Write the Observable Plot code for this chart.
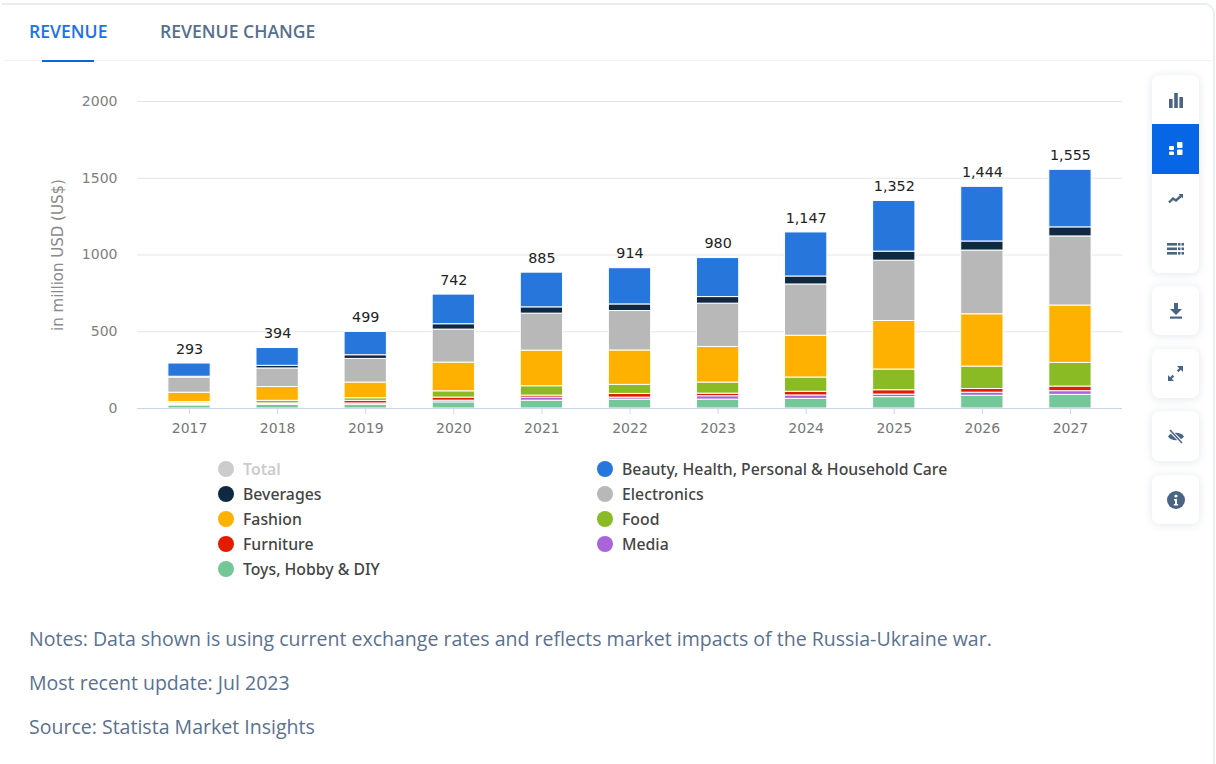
<!DOCTYPE html>
<html>
<head>
<meta charset="utf-8">
<script src="https://cdn.jsdelivr.net/npm/d3@7"></script>
<script src="https://cdn.jsdelivr.net/npm/@observablehq/plot@0.6"></script>
<style>
html,body{margin:0;padding:0;background:#fff;width:1216px;height:764px;overflow:hidden;font-family:"Open Sans",sans-serif}
#card{position:absolute;left:2px;top:3px;width:1211px;height:761px;background:#fff;border-top:2px solid #e9edf2;border-right:2px solid #e9edf2;border-radius:0 10px 0 0}
#stage{position:absolute;left:0;top:0;width:1216px;height:764px}
.tab{position:absolute;top:19px;font-size:17.6px;font-weight:600;line-height:24px;color:#566f8f;white-space:nowrap}
.tab.on{color:#1a73e8}
#tabline{position:absolute;left:4px;top:60px;width:1210px;height:1px;background:#f0f2f5}
#tabmark{position:absolute;left:42px;top:60px;width:52px;height:2px;background:#0666e5}
#plot{position:absolute;left:0;top:0}
.lg{position:absolute;font-family:"Noto Sans",sans-serif;font-weight:500;font-size:15.8px;line-height:18px;color:#444;white-space:nowrap;padding-left:25px}
.lg i{position:absolute;left:0;top:1px;width:16px;height:16px;border-radius:50%}
.note{position:absolute;left:29px;font-size:19.55px;line-height:26px;color:#5a7190;white-space:nowrap}
.tb{position:absolute;left:1152px;width:47px;background:#fff;border-radius:7px;box-shadow:0 1px 9px rgba(70,90,120,.15)}
.btn{position:absolute;left:0;width:47px;display:flex;align-items:center;justify-content:center}
.btn.on{background:#0666e5}
</style>
</head>
<body>
<div id="card"></div>
<div id="stage">
  <div class="tab on" style="left:29px">REVENUE</div>
  <div class="tab" style="left:160px">REVENUE CHANGE</div>
  <div id="tabline"></div><div id="tabmark"></div>
  <div id="plot"></div>
  <div id="legend"></div>
  <div class="note" style="top:626px">Notes: Data shown is using current exchange rates and reflects market impacts of the Russia-Ukraine war.</div>
  <div class="note" style="top:670px">Most recent update: Jul 2023</div>
  <div class="note" style="top:714px">Source: Statista Market Insights</div>

  <div class="tb" style="top:75px;height:198px">
    <div class="btn" style="top:0;height:49px"><svg width="16" height="16" fill="#4a6484"><rect x="1" y="7" width="3.6" height="9"/><rect x="6.2" y="1" width="3.6" height="15"/><rect x="11.4" y="5" width="3.6" height="11"/></svg></div>
    <div class="btn on" style="top:49px;height:50px"><svg width="16" height="14" fill="#fff"><rect x="1" y="4" width="5" height="4" rx="1"/><rect x="1" y="9.5" width="5" height="3.5" rx="1"/><rect x="9" y="0" width="5.5" height="6" rx="1"/><rect x="9" y="7.5" width="5.5" height="5.5" rx="1"/></svg></div>
    <div class="btn" style="top:99px;height:50px"><svg width="16" height="12"><path d="M1 9.5 L5 5.5 L8 7.5 L13.5 2.5" fill="none" stroke="#4a6484" stroke-width="2.4"/><path d="M10.5 1h4.5v4.5z" fill="#4a6484"/></svg></div>
    <div class="btn" style="top:149px;height:49px"><svg width="17" height="14" fill="#4a6484"><rect x="0" y="1" width="10" height="2.6"/><rect x="0" y="5.5" width="10" height="2.6"/><rect x="0" y="10" width="10" height="2.6"/><rect x="11" y="1" width="2.5" height="2.6"/><rect x="14.5" y="1" width="2.5" height="2.6"/><rect x="11" y="5.5" width="2.5" height="2.6"/><rect x="14.5" y="5.5" width="2.5" height="2.6"/><rect x="11" y="10" width="2.5" height="2.6"/><rect x="14.5" y="10" width="2.5" height="2.6"/></svg></div>
  </div>
  <div class="tb" style="top:286px;height:49px"><div class="btn" style="top:0;height:49px"><svg width="14" height="16" fill="#4a6484"><path d="M5 0h4v6h4l-6 6-6-6h4z"/><rect x="1" y="13.5" width="12" height="2.2"/></svg></div></div>
  <div class="tb" style="top:349px;height:49px"><div class="btn" style="top:0;height:49px"><svg width="15" height="15" fill="#4a6484"><path d="M9 0h6v6l-2.2-2.2-2.4 2.4-1.6-1.6 2.4-2.4z"/><path d="M6 15H0V9l2.2 2.2 2.4-2.4 1.6 1.6-2.4 2.4z"/></svg></div></div>
  <div class="tb" style="top:411px;height:50px"><div class="btn" style="top:0;height:50px"><svg width="18" height="15"><path d="M1 7.5C4 2.5 14 2.5 17 7.5 14 12.5 4 12.5 1 7.5z" fill="#4a6484"/><path d="M3 1.5 15 13.5" stroke="#fff" stroke-width="3.4"/><path d="M3 1 15 14" stroke="#4a6484" stroke-width="1.6"/></svg></div></div>
  <div class="tb" style="top:475px;height:49px"><div class="btn" style="top:0;height:49px"><svg width="18" height="18"><circle cx="9" cy="9" r="9" fill="#4a6484"/><circle cx="9" cy="5" r="1.6" fill="#fff"/><path d="M7 8h3v5h1.2v1.4H6.8V13H8V9.4H7z" fill="#fff"/></svg></div></div>
</div>
<script>
const years = ["2017","2018","2019","2020","2021","2022","2023","2024","2025","2026","2027"];
const totals = [293,394,499,742,885,914,980,1147,1352,1444,1555];
const toys = [20,24,24,40,51,58,58,63,74,83,89];
const media = [6,3,9,11,20,13,22,22,17,20,24];
const furniture = [7,6,17,20,13,24,17,24,28,24,30];
const food = [8,17,17,41,61,59,72,93,135,146,154];
const fashion = [62,90,102,187,232,224,232,272,316,341,374];
const electronics = [98,121,154,215,241,257,282,334,393,415,450];
const beverages = [6,17,24,35,41,43,43,52,59,59,59];
const beauty = [86,116,152,193,226,236,254,287,330,356,375];

const seriesNames = ["Toys, Hobby & DIY","Media","Furniture","Food","Fashion","Electronics","Beverages","Beauty, Health, Personal & Household Care"];
const seriesValues = [toys,media,furniture,food,fashion,electronics,beverages,beauty];
const seriesColors = ["#74c797","#a864d8","#e31b00","#8abb24","#ffb100","#b8b8b8","#0f2942","#2776dc"];

const legendRows = [
  ["Total","#cccccc",226,469,"#cccccc"],
  ["Beauty, Health, Personal & Household Care","#2776dc",605,469],
  ["Beverages","#0f2942",226,494],
  ["Electronics","#b8b8b8",605,494],
  ["Fashion","#ffb100",226,519],
  ["Food","#8abb24",605,519],
  ["Furniture","#e31b00",226,544],
  ["Media","#a864d8",605,544],
  ["Toys, Hobby & DIY","#74c797",226,569]
];

const rows = seriesNames.flatMap((s,i)=>years.map((y,j)=>({year:y,series:s,value:seriesValues[i][j]})));
const totalRows = years.map((y,j)=>({year:y,total:totals[j]}));
const font = "'DejaVu Sans',sans-serif";

const chart = Plot.plot({
  width:1216,height:450,
  marginLeft:137,marginRight:94,marginTop:101,marginBottom:42,
  style:{fontFamily:font,background:"transparent",overflow:"visible"},
  x:{type:"band",domain:years,insetLeft:8,insetRight:8,paddingInner:0.52,paddingOuter:0.26,align:0.5,round:false},
  y:{domain:[0,2000]},
  color:{domain:seriesNames,range:seriesColors},
  marks:[
    Plot.ruleY([500,1000,1500,2000],{stroke:"#e6e6e6",strokeWidth:1}),
    Plot.axisY({ticks:[0,500,1000,1500,2000],tickFormat:d=>String(d),tickSize:0,tickPadding:20,fontSize:14,color:"#808080",label:null}),
    Plot.axisY({ticks:[],label:"in million USD (US$)",labelAnchor:"center",labelArrow:"none",labelOffset:85,fontSize:15,color:"#8a8a8a"}),
    Plot.barY(rows,Plot.stackY({x:"year",y:"value",fill:"series",order:null,stroke:"#fff",strokeWidth:1})),
    Plot.ruleY([0],{stroke:"#ccd6eb",strokeWidth:1}),
    Plot.axisX({tickSize:6,tickPadding:9,fontSize:14,label:null,stroke:"#ccd6eb",fill:"#777"}),
    Plot.text(totalRows,{x:"year",y:"total",text:d=>d3.format(",")(d.total),dy:-14.5,fontSize:14.3,fill:"#222"})
  ]
});
document.getElementById("plot").appendChild(chart);

const lg = document.getElementById("legend");
for (const [name,color,x,y,tc] of legendRows){
  const d = document.createElement("div");
  d.className = "lg";
  d.style.left = (x-8)+"px";
  d.style.top = (y-9)+"px";
  if (tc) {d.style.color = tc; d.style.fontWeight = 600;}
  const c = document.createElement("i");
  c.style.background = color;
  d.appendChild(c);
  d.appendChild(document.createTextNode(name));
  lg.appendChild(d);
}
</script>
</body>
</html>
